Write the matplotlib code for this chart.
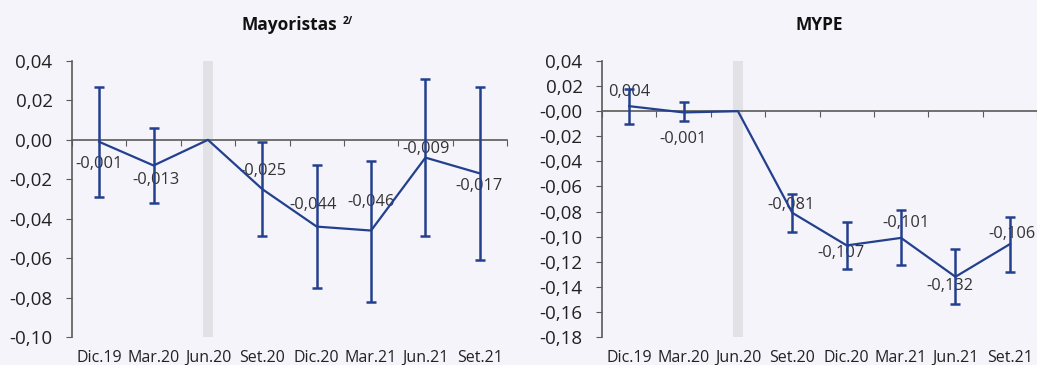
import numpy as np
import matplotlib.pyplot as plt
from matplotlib.ticker import FuncFormatter

plt.rcParams['font.family'] = ['Open Sans', 'DejaVu Sans']

periodos = ['Dic.19', 'Mar.20', 'Jun.20', 'Set.20', 'Dic.20', 'Mar.21', 'Jun.21', 'Set.21']

# Mayoristas: coeficiente, limite superior e inferior del intervalo
may_coef = [-0.001, -0.013, 0.000, -0.025, -0.044, -0.046, -0.009, -0.017]
may_sup = [0.027, 0.006, 0.000, -0.001, -0.013, -0.0105, 0.031, 0.027]
may_inf = [-0.029, -0.032, 0.000, -0.049, -0.075, -0.082, -0.049, -0.061]

# MYPE
mype_coef = [0.004, -0.001, 0.000, -0.081, -0.107, -0.101, -0.132, -0.106]
mype_sup = [0.018, 0.007, 0.000, -0.066, -0.088, -0.079, -0.110, -0.084]
mype_inf = [-0.010, -0.008, 0.000, -0.096, -0.126, -0.123, -0.154, -0.128]

may_ylim = (-0.10, 0.04)
mype_ylim = (-0.18, 0.04)

# desplazamiento de cada etiqueta (pixeles)
may_off = [(0, -22), (2, -15), None, (1, 18), (-4, 22), (0, 29), (1, 9), (-1, -13)]
mype_off = [(0, 14), (0, -27), None, (-1, 8), (-6, -8), (5, 15), (-6, -9), (2, 10)]

bg = '#F4F4FA'
azul = '#23408F'
gris = '#5A5A5A'

fig = plt.figure(figsize=(10.37, 3.65), dpi=100, facecolor=bg)
ax1 = fig.add_axes([72/1037, 28/365, 435/1037, 276/365])
ax2 = fig.add_axes([602/1037, 28/365, 435/1037, 276/365])

coma = FuncFormatter(lambda v, p: f'{v:.2f}'.replace('.', ','))


def panel(ax, coef, sup, inf, ylim, offs, titulo):
    x = np.arange(len(periodos))
    coef = np.array(coef)
    err = np.array([coef - np.array(inf), np.array(sup) - coef])
    ax.set_facecolor(bg)
    ax.set_xlim(-0.5, len(periodos) - 0.5)
    ax.set_ylim(*ylim)

    # periodo base sombreado
    ax.bar(2, ylim[1] - ylim[0], bottom=ylim[0], width=0.18,
           color='#E2E2E6', zorder=0)

    ax.plot(x, coef, color=azul, lw=1.6, zorder=3)
    m = coef != 0
    ax.errorbar(x[m], coef[m], yerr=err[:, m], fmt='none', ecolor=azul,
                elinewidth=1.8, capsize=3.5, capthick=1.8, zorder=4)

    for xi, v, o in zip(x, coef, offs):
        if o is None:
            continue
        ax.annotate(f'{v:.3f}'.replace('.', ','), (xi, v), xytext=o,
                    textcoords='offset pixels', ha='center', va='center',
                    fontsize=11.8, color='#333333', zorder=2)

    for s in ['top', 'right']:
        ax.spines[s].set_visible(False)
    ax.spines['left'].set_color(gris)
    ax.spines['left'].set_linewidth(1.2)
    ax.spines['bottom'].set_position(('data', 0))
    ax.spines['bottom'].set_color(gris)
    ax.spines['bottom'].set_linewidth(1.2)
    ax.set_xticks(np.arange(len(periodos) + 1) - 0.5)
    ax.tick_params(axis='x', direction='out', length=4, color=gris,
                   labelbottom=False)
    ax.set_yticks(np.arange(ylim[0], ylim[1] + 0.001, 0.02))
    ax.yaxis.set_major_formatter(coma)
    ax.tick_params(axis='y', direction='out', length=4, color=gris,
                   labelsize=13.5, labelcolor='#222222', pad=10)

    sec = ax.secondary_xaxis('bottom')
    sec.set_xticks(x, periodos)
    sec.tick_params(length=0, labelsize=11.5, labelcolor='#222222', pad=9)
    sec.spines['bottom'].set_visible(False)

    ax.set_title(titulo, fontsize=12.5, fontweight='bold', color='#111111',
                 pad=22)
    return ax


panel(ax1, may_coef, may_sup, may_inf, may_ylim, may_off, 'Mayoristas')
panel(ax2, mype_coef, mype_sup, mype_inf, mype_ylim, mype_off, 'MYPE')

# nota al pie del titulo
ax1.annotate('2/', (1, 1), xycoords=ax1.title, xytext=(4, 0),
             textcoords='offset points', fontsize=7.5, fontweight='bold',
             color='#111111', ha='left', va='top')

fig.savefig('out.png', dpi=100, facecolor=bg)
